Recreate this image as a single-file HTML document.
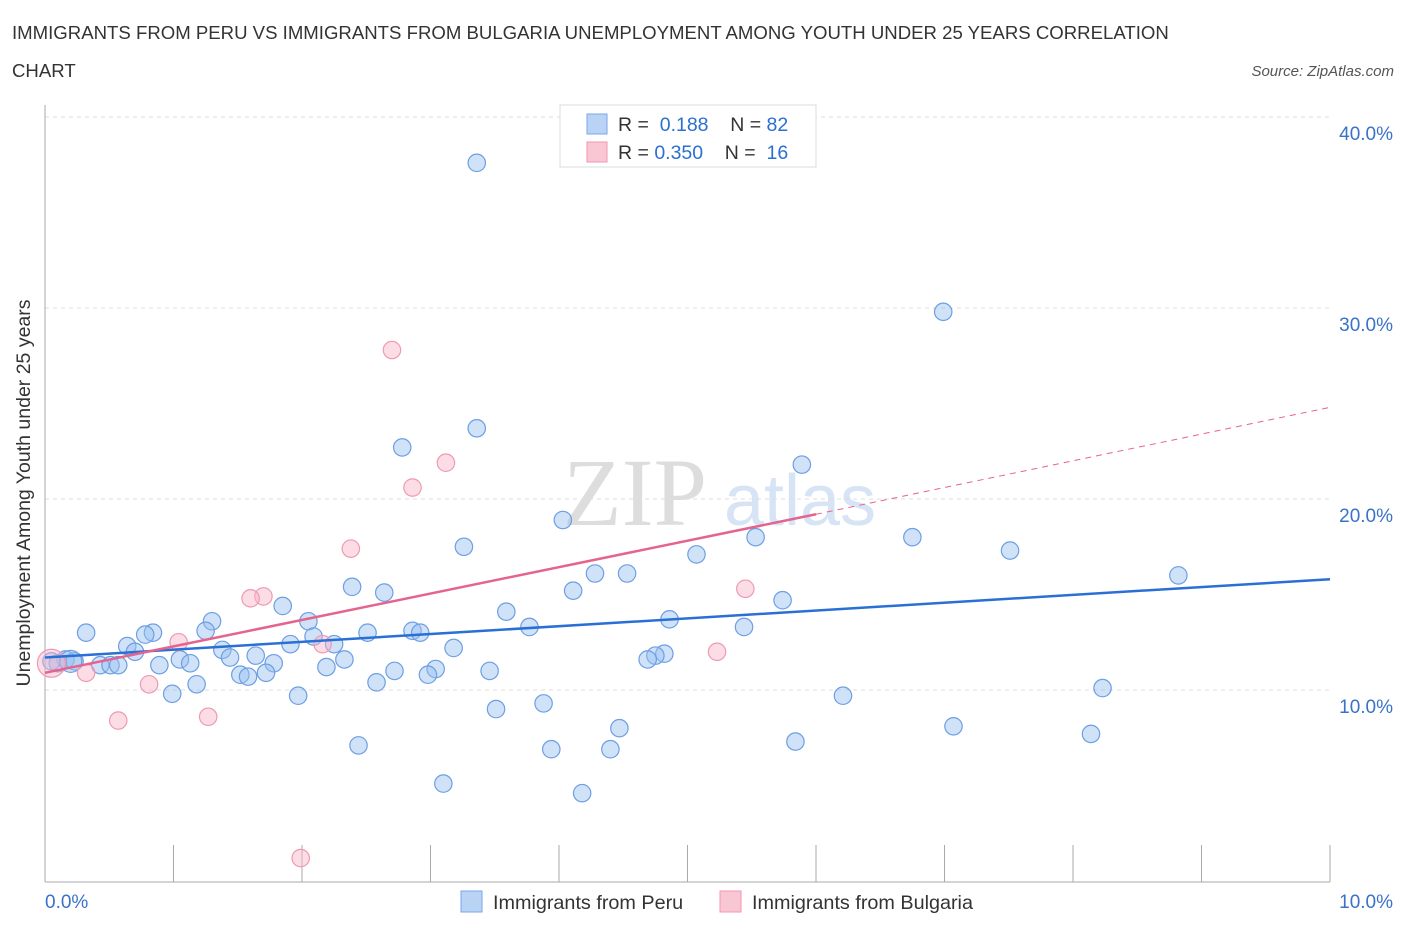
<!DOCTYPE html>
<html><head><meta charset="utf-8"><style>
body{margin:0;background:#fff;font-family:"Liberation Sans",sans-serif;}
</style></head><body>
<svg width="1406" height="930" xmlns="http://www.w3.org/2000/svg" id="chart">
<text x="12" y="39" font-size="18.6" fill="#333">IMMIGRANTS FROM PERU VS IMMIGRANTS FROM BULGARIA UNEMPLOYMENT AMONG YOUTH UNDER 25 YEARS CORRELATION</text>
<text x="12" y="77" font-size="18.6" fill="#333">CHART</text>
<text x="1394" y="76" font-size="15" font-style="italic" fill="#555" text-anchor="end">Source: ZipAtlas.com</text>
<text x="635" y="525" font-size="96" font-family="Liberation Serif" fill="#ddd" text-anchor="middle">ZIP</text>
<text x="800" y="525" font-size="72" fill="#d6e4f5" text-anchor="middle">atlas</text>
<g id="grid"></g>
<line x1="45" y1="105" x2="45" y2="882" stroke="#aaa"/>
<line x1="45" y1="882" x2="1330" y2="882" stroke="#aaa"/>
<text x="30" y="493" font-size="19.5" fill="#333" text-anchor="middle" transform="rotate(-90 30 493)">Unemployment Among Youth under 25 years</text>
<text x="45" y="908" font-size="19" fill="#3a72c8">0.0%</text>
<text x="1393" y="908" font-size="19" fill="#3a72c8" text-anchor="end">10.0%</text>
<g id="points"></g>
<g id="lines"></g>
<g>
<rect x="560" y="105" width="256" height="62" fill="#fff" stroke="#ddd"/>
<rect x="587" y="114" width="20" height="20" fill="#b9d3f5" stroke="#7aa6e6"/>
<rect x="587" y="142" width="20" height="20" fill="#f9c6d4" stroke="#ef98b0"/>
<text x="618" y="131" font-size="19.5" fill="#333">R = <tspan fill="#2b6fd0">&#160;0.188</tspan>&#160;&#160;&#160; N = <tspan fill="#2b6fd0">82</tspan></text>
<text x="618" y="159" font-size="19.5" fill="#333">R = <tspan fill="#2b6fd0">0.350</tspan>&#160;&#160;&#160; N = <tspan fill="#2b6fd0">&#160;16</tspan></text>
</g>
<g>
<rect x="461" y="891" width="21" height="21" fill="#b9d3f5" stroke="#7aa6e6"/>
<text x="493" y="909" font-size="19.8" fill="#333">Immigrants from Peru</text>
<rect x="720" y="891" width="21" height="21" fill="#f9c6d4" stroke="#ef98b0"/>
<text x="752" y="909" font-size="19.8" fill="#333">Immigrants from Bulgaria</text>
</g>
</svg>
<script>
const yTicks=[10,20,30,40];
const yTickLabels=["10.0%","20.0%","30.0%","40.0%"];
const xTicks=[1,2,3,4,5,6,7,8,9,10];
const peruX=[3.36,6.99,2.78,3.36,5.89,4.03,3.26,5.53,6.75,5.07,7.51,8.82,2.39,2.64,4.11,4.28,4.53,1.85,3.59,5.74,1.3,2.05,4.86,3.77,5.44,0.32,0.84,0.78,1.25,2.51,2.86,2.92,2.09,0.64,0.7,1.38,1.91,2.25,3.18,4.82,4.75,4.69,1.05,1.13,0.89,1.44,1.64,1.78,2.33,2.19,2.72,3.04,2.98,3.46,1.52,1.58,1.72,0.16,0.23,0.43,0.51,0.57,0.1,0.05,0.99,1.18,1.97,2.58,3.88,3.51,6.21,8.23,4.47,7.07,8.14,2.44,3.94,4.4,5.84,3.1,4.18,0.2];
const peruY=[37.6,29.8,22.7,23.7,21.8,18.9,17.5,18.0,18.0,17.1,17.3,16.0,15.4,15.1,15.2,16.1,16.1,14.4,14.1,14.7,13.6,13.6,13.7,13.3,13.3,13.0,13.0,12.9,13.1,13.0,13.1,13.0,12.8,12.3,12.0,12.1,12.4,12.4,12.2,11.9,11.8,11.6,11.6,11.4,11.3,11.7,11.8,11.4,11.6,11.2,11.0,11.1,10.8,11.0,10.8,10.7,10.9,11.6,11.5,11.3,11.3,11.3,11.4,11.5,9.8,10.3,9.7,10.4,9.3,9.0,9.7,10.1,8.0,8.1,7.7,7.1,6.9,6.9,7.3,5.1,4.6,11.5];
const bulgX=[2.7,3.12,2.86,2.38,1.7,1.6,1.04,2.16,5.45,5.23,0.81,0.32,0.57,1.27,1.99,0.05];
const bulgY=[27.8,21.9,20.6,17.4,14.9,14.8,12.5,12.4,15.3,12.0,10.3,10.9,8.4,8.6,1.2,11.4];
const peruTrend=[[0,11.7],[10,15.8]];
const bulgTrend=[[0,10.9],[6,19.2],[10,24.8]];
const NS="http://www.w3.org/2000/svg";
const xs=v=>45+v*128.5, ys=v=>881-v*19.1;
function mk(t,a,p){const e=document.createElementNS(NS,t);for(const k in a)e.setAttribute(k,a[k]);p.appendChild(e);return e;}
const grid=document.getElementById('grid');
yTicks.forEach((t,i)=>{
 const l=mk('line',{x1:45,x2:1330,y1:ys(t),y2:ys(t),stroke:'#ddd','stroke-dasharray':'4 4'},grid);
 
 
 const tx=mk('text',{x:1393,y:ys(t)+23,'font-size':19,fill:'#3a72c8','text-anchor':'end'},grid);
 tx.textContent=yTickLabels[i];
 
 
});
xTicks.forEach(t=>{
 const l=mk('line',{x1:xs(t),x2:xs(t),y1:845,y2:882,stroke:'#aaa'},grid);
 
 
});
const pts=document.getElementById('points');
peruX.forEach((x,i)=>{
 const c=mk('circle',{cx:xs(x),cy:ys(peruY[i]),r:(i==81?11:8.7),fill:'rgba(150,190,240,0.45)',stroke:'#6d9fe3','stroke-width':1.2},pts);
 
 
});
bulgX.forEach((x,i)=>{
 const c=mk('circle',{cx:xs(x),cy:ys(bulgY[i]),r:(i==15?14:8.7),fill:'rgba(248,180,200,0.45)',stroke:'#ee9ab2','stroke-width':1.2},pts);
 
 
});
const ln=document.getElementById('lines');
let a=mk('line',{x1:xs(peruTrend[0][0]),y1:ys(peruTrend[0][1]),x2:xs(peruTrend[1][0]),y2:ys(peruTrend[1][1]),stroke:'#2a6fd6','stroke-width':2.5},ln);


let b=mk('line',{x1:xs(bulgTrend[0][0]),y1:ys(bulgTrend[0][1]),x2:xs(bulgTrend[1][0]),y2:ys(bulgTrend[1][1]),stroke:'#e4648e','stroke-width':2.5},ln);


let d=mk('line',{x1:xs(bulgTrend[1][0]),y1:ys(bulgTrend[1][1]),x2:xs(bulgTrend[2][0]),y2:ys(bulgTrend[2][1]),stroke:'#e4648e','stroke-width':1,'stroke-dasharray':'6 5'},ln);


</script>
</body></html>
